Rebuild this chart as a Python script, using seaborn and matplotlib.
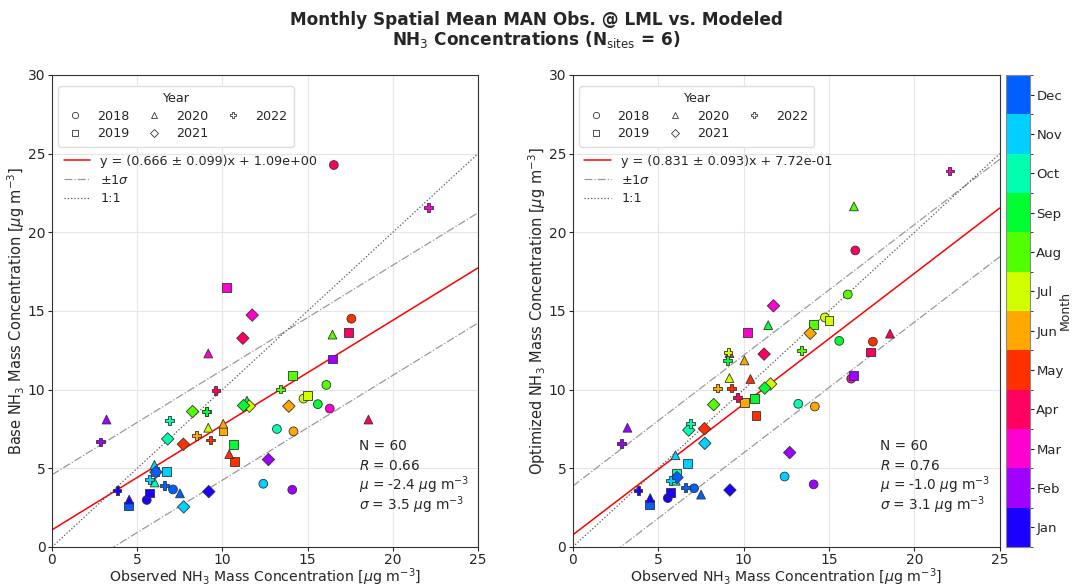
import numpy as np
import pandas as pd
import matplotlib
matplotlib.use("Agg")
import matplotlib.pyplot as plt
import seaborn as sns
from matplotlib.lines import Line2D
from matplotlib.colors import ListedColormap, BoundaryNorm
from matplotlib.cm import ScalarMappable

# ---------------- data ----------------
years = [2018, 2019, 2020, 2021, 2022]
month_names = ["Jan", "Feb", "Mar", "Apr", "May", "Jun",
               "Jul", "Aug", "Sep", "Oct", "Nov", "Dec"]

obs_2018 = [5.56, 14.1, 16.3, 16.54, 17.57, 14.17, 14.76, 16.1, 15.6, 13.2, 12.4, 7.1]
base_2018 = [2.99, 3.64, 8.8, 24.28, 14.51, 7.35, 9.43, 10.3, 9.08, 7.5, 4.02, 3.66]
opt_2018 = [3.11, 3.98, 10.7, 18.85, 13.05, 8.93, 14.59, 16.05, 13.1, 9.1, 4.48, 3.73]

obs_2019 = [5.73, 16.44, 10.25, 17.42, 10.72, 10.03, 15.0, 14.1, 10.64, 6.05, 6.71, 4.5]
base_2019 = [3.43, 11.95, 16.47, 13.64, 5.43, 7.37, 9.62, 10.9, 6.5, 4.8, 4.82, 2.61]
opt_2019 = [3.47, 10.89, 13.64, 12.4, 8.34, 9.2, 14.38, 14.15, 9.43, 4.67, 5.33, 2.7]

obs_2020 = [4.53, 3.2, 9.17, 18.57, 10.4, 10.05, 9.17, 16.46, 11.44, 6.03, 6.01, 7.51]
base_2020 = [3.01, 8.1, 12.3, 8.1, 5.9, 7.83, 7.58, 13.5, 9.3, 4.1, 5.22, 3.41]
opt_2020 = [3.11, 7.58, 12.32, 13.56, 10.68, 11.86, 10.74, 21.65, 14.1, 4.21, 5.83, 3.33]

obs_2021 = [9.2, 12.7, 11.75, 11.2, 7.71, 13.9, 11.58, 8.25, 11.24, 6.79, 7.73, 6.1]
base_2021 = [3.52, 5.56, 14.74, 13.27, 6.53, 8.95, 8.95, 8.61, 8.99, 6.87, 2.55, 4.76]
opt_2021 = [3.62, 6.0, 15.33, 12.26, 7.52, 13.58, 10.36, 9.05, 10.1, 7.43, 6.59, 4.42]

obs_2022 = [3.82, 2.85, 22.08, 9.62, 9.31, 8.49, 9.09, 13.4, 9.04, 6.9, 5.74, 6.58]
base_2022 = [3.58, 6.68, 21.58, 9.94, 6.8, 7.07, 8.61, 10.04, 8.61, 8.06, 4.31, 3.9]
opt_2022 = [3.58, 6.57, 23.9, 9.48, 10.1, 10.1, 12.38, 12.47, 11.83, 7.83, 4.25, 3.79]

# fit / statistics shown on each panel (base, optimized)
fit_slope = [0.666, 0.831]
fit_slope_err = [0.099, 0.093]
fit_intercept = [1.09, 0.772]
stat_n = [60, 60]
stat_R = [0.66, 0.76]
stat_mu = [-2.4, -1.0]
stat_sigma = [3.5, 3.1]

# ---------------- frame ----------------
obs_all = [obs_2018, obs_2019, obs_2020, obs_2021, obs_2022]
base_all = [base_2018, base_2019, base_2020, base_2021, base_2022]
opt_all = [opt_2018, opt_2019, opt_2020, opt_2021, opt_2022]
rows = []
for yi, yr in enumerate(years):
    for m in range(12):
        rows.append(dict(year=yr, month=m + 1, obs=obs_all[yi][m],
                         base=base_all[yi][m], opt=opt_all[yi][m]))
df = pd.DataFrame(rows)

month_colors = ["#1a00ff", "#a000ff", "#ff00d0", "#ff0060", "#ff3000", "#ffa800",
                "#d0ff00", "#50ff00", "#00ff30", "#00ffb0", "#00d0ff", "#0060ff"]
palette = {m + 1: c for m, c in enumerate(month_colors)}
markers = {2018: "o", 2019: "s", 2020: "^", 2021: "D", 2022: "P"}

sns.set_style("ticks")
plt.rcParams["font.family"] = ["DejaVu Sans"]

fig = plt.figure(figsize=(10.73, 5.87), dpi=100)
ax1 = fig.add_axes([52 / 1073, 40 / 587, 426 / 1073, 472 / 587])
ax2 = fig.add_axes([572.8 / 1073, 40 / 587, 427 / 1073, 472 / 587])
cax = fig.add_axes([1005.5 / 1073, 40 / 587, 24.5 / 1073, 472 / 587])

xline = np.array([0, 25])
ylabels = ["Base NH$_3$ Mass Concentration [$\\mu$g m$^{-3}$]",
           "Optimized NH$_3$ Mass Concentration [$\\mu$g m$^{-3}$]"]

for i, (ax, col) in enumerate([(ax1, "base"), (ax2, "opt")]):
    ax.grid(True, color="#e6e6e6", lw=0.8, zorder=0)
    ax.set_axisbelow(True)
    fit = fit_slope[i] * xline + fit_intercept[i]
    l_fit, = ax.plot(xline, fit, color="red", lw=1.1, zorder=2)
    l_sig, = ax.plot(xline, fit + stat_sigma[i], color="#999999", lw=0.9,
                     ls="-.", zorder=2)
    ax.plot(xline, fit - stat_sigma[i], color="#999999", lw=0.9, ls="-.", zorder=2)
    l_11, = ax.plot(xline, xline, color="#555555", lw=0.9, ls=":", zorder=2)

    sns.scatterplot(data=df, x="obs", y=col, hue="month", style="year",
                    palette=palette, markers=markers, s=40, edgecolor="#333333",
                    linewidth=0.6, legend=False, ax=ax, zorder=3)

    ax.set_xlim(0, 25)
    ax.set_ylim(0, 30)
    ax.set_xticks([0, 5, 10, 15, 20, 25])
    ax.set_yticks([0, 5, 10, 15, 20, 25, 30])
    ax.tick_params(labelsize=10, length=3.2, pad=1.5)
    ax.tick_params(axis="x", pad=1)
    ax.set_xlabel("Observed NH$_3$ Mass Concentration [$\\mu$g m$^{-3}$]",
                  fontsize=10.2, labelpad=0)
    ax.set_ylabel(ylabels[i], fontsize=10.5, labelpad=0.5)
    for sp in ax.spines.values():
        sp.set_color("#333333")

    year_handles = [Line2D([], [], marker=markers[y], ls="", markerfacecolor="white",
                           markeredgecolor="#333333", markeredgewidth=0.6,
                           markersize=4.5) for y in years]
    leg1 = ax.legend(year_handles, [str(y) for y in years], title="Year", ncol=3,
                     loc="upper left", bbox_to_anchor=(0.0, 0.99), fontsize=9.2,
                     title_fontsize=9.2, columnspacing=1.17, handletextpad=0.9,
                     handlelength=1.6, borderpad=0.5, labelspacing=0.35,
                     framealpha=1, edgecolor="#dddddd")
    ax.add_artist(leg1)
    fit_label = (f"y = ({fit_slope[i]:.3f} \u00b1 {fit_slope_err[i]:.3f})x + "
                 f"{fit_intercept[i]:.2e}")
    ax.legend([l_fit, l_sig, l_11], [fit_label, "$\\pm1\\sigma$", "1:1"],
              loc="upper left", bbox_to_anchor=(0.0, 0.855), frameon=False,
              fontsize=9.2, handlelength=2.1, labelspacing=0.45, handletextpad=0.78)

    stat_lines = [f"N = {stat_n[i]}", f"$R$ = {stat_R[i]:.2f}",
                  f"$\\mu$ = {stat_mu[i]:.1f} $\\mu$g m$^{{-3}}$",
                  f"$\\sigma$ = {stat_sigma[i]:.1f} $\\mu$g m$^{{-3}}$"]
    for k, line in enumerate(stat_lines):
        ax.text(0.72, 0.206 - 0.0425 * k, line, transform=ax.transAxes,
                fontsize=9.8, va="baseline", ha="left")

cmap = ListedColormap(month_colors)
norm = BoundaryNorm(np.arange(0.5, 13.5, 1), cmap.N)
cb = fig.colorbar(ScalarMappable(norm=norm, cmap=cmap), cax=cax,
                  ticks=np.arange(1, 13))
cb.ax.set_yticklabels(month_names)
cb.ax.tick_params(labelsize=9.5, length=3, pad=1.5)
cb.set_label("Month", fontsize=9, labelpad=-3.5)
cb.outline.set_edgecolor("#888888")

fig.text(0.5, 1 - 25 / 587, "Monthly Spatial Mean MAN Obs. @ LML vs. Modeled",
         fontsize=12.2, fontweight="bold", ha="center", va="baseline")
fig.text(0.5, 1 - 45 / 587, "NH$_3$ Concentrations (N$_{\\rm sites}$ = 6)",
         fontsize=12.2, fontweight="bold", ha="center", va="baseline")

fig.savefig("out.png", dpi=100)
